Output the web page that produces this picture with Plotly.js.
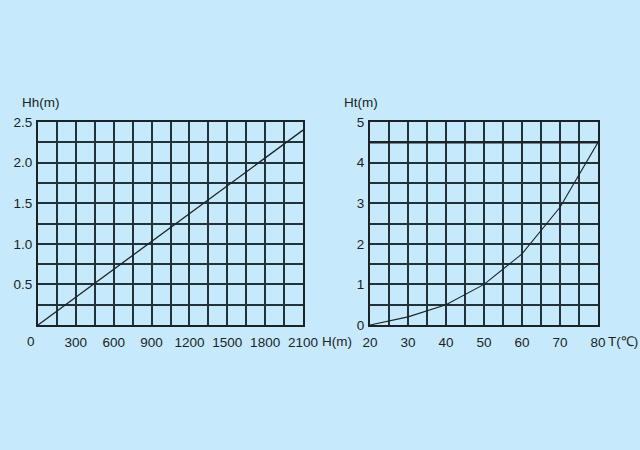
<!DOCTYPE html>
<html>
<head>
<meta charset="utf-8">
<script src="https://cdn.plot.ly/plotly-3.0.1.min.js"></script>
<style>
  html, body { margin: 0; padding: 0; background: #c6eafb; }
  #chart { width: 640px; height: 450px; }
</style>
</head>
<body>
<div id="chart"></div>
<script>
// left panel: Hh against H
var heightH = [0, 2100];
var hhValues = [0, 2.4];
var hTicks = [300, 600, 900, 1200, 1500, 1800, 2100];
var hhTicks = [0.5, 1.0, 1.5, 2.0, 2.5];
var hhTickText = ['0.5', '1.0', '1.5', '2.0', '2.5'];

// right panel: Ht against T
var tempT = [20, 30, 40, 50, 60, 70, 80];
var htValues = [0, 0.2, 0.5, 1.0, 1.75, 2.9, 4.5];
var tTicks = [20, 30, 40, 50, 60, 70, 80];
var htTicks = [0, 1, 2, 3, 4, 5];
var htMark = 4.5;

var ink = '#1b2326';
var gridInk = '#223238';
var bg = '#c6eafb';
var font = {family: 'Liberation Sans, Arial, sans-serif', size: 13.5, color: ink};

var data = [
    {
        x: heightH, y: hhValues,
        mode: 'lines', type: 'scatter',
        line: {color: ink, width: 1.3},
        xaxis: 'x', yaxis: 'y',
        hoverinfo: 'skip'
    },
    {
        x: tempT, y: htValues,
        mode: 'lines', type: 'scatter',
        line: {color: ink, width: 1.1},
        xaxis: 'x2', yaxis: 'y2',
        hoverinfo: 'skip'
    }
];

function axis(extra, gw) {
    var a = {
        showline: true, mirror: true,
        linecolor: ink, linewidth: 2,
        showgrid: true, gridcolor: gridInk, gridwidth: gw,
        zeroline: false,
        ticks: '', tickfont: font,
        fixedrange: true
    };
    for (var k in extra) a[k] = extra[k];
    a.minor.showgrid = true;
    a.minor.gridcolor = gridInk;
    a.minor.gridwidth = gw;
    return a;
}

function label(text, px, py, xa) {
    return {text: text, xref: 'paper', yref: 'paper',
            x: px / 640, y: 1 - py / 450,
            xanchor: xa, yanchor: 'middle',
            showarrow: false, font: font};
}

var layout = {
    width: 640, height: 450,
    paper_bgcolor: bg, plot_bgcolor: bg,
    showlegend: false,
    margin: {l: 0, r: 0, t: 0, b: 0},
    font: font,
    xaxis: axis({
        domain: [38 / 640, 303 / 640], range: [0, 2100],
        tickmode: 'array', tickvals: hTicks,
        minor: {dtick: 150},
        anchor: 'y', ticklabelstandoff: 4
    }, 2),
    yaxis: axis({
        domain: [1 - 325 / 450, 1 - 122 / 450], range: [0, 2.5],
        tickmode: 'array', tickvals: hhTicks, ticktext: hhTickText,
        minor: {dtick: 0.25},
        anchor: 'x', ticklabelstandoff: 1
    }, 2),
    xaxis2: axis({
        domain: [370 / 640, 598 / 640], range: [20, 80],
        tickmode: 'array', tickvals: tTicks,
        minor: {dtick: 5},
        anchor: 'y2', ticklabelstandoff: 4
    }, 2),
    yaxis2: axis({
        domain: [1 - 325 / 450, 1 - 122 / 450], range: [0, 5],
        tickmode: 'array', tickvals: htTicks,
        minor: {dtick: 0.5},
        anchor: 'x2', ticklabelstandoff: 1
    }, 2),
    shapes: [
        {type: 'line', xref: 'x2 domain', yref: 'y2', x0: 0, x1: 1,
         y0: htMark, y1: htMark, line: {color: ink, width: 2.5}}
    ],
    annotations: [
        label('Hh(m)', 41, 102, 'center'),
        label('0', 31, 341, 'center'),
        label('H(m)', 320, 341, 'left'),
        label('Ht(m)', 361, 102, 'center'),
        label('T(℃)', 606, 341, 'left')
    ]
};

Plotly.newPlot('chart', data, layout, {displayModeBar: false});
</script>
</body>
</html>
